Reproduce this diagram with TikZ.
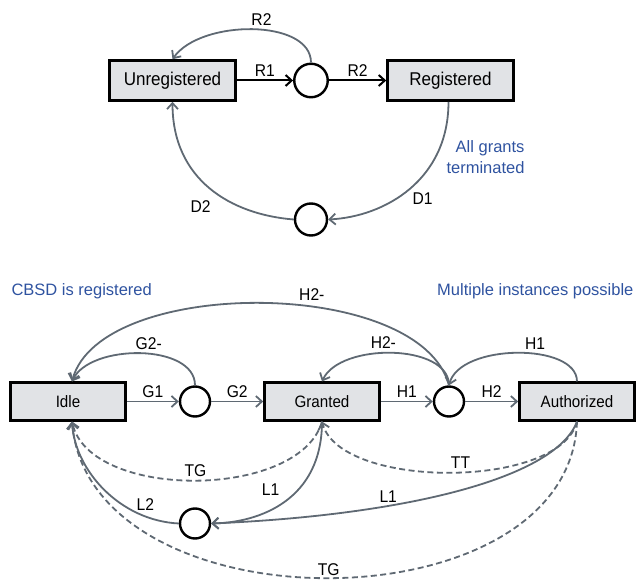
\documentclass[tikz,border=0pt]{standalone}
\usepackage{fontspec}
\setmainfont{Liberation Sans}[FakeStretch=0.92]
\newfontfamily\notefont{Liberation Sans}
\usetikzlibrary{arrows.meta,positioning}

\definecolor{linegray}{HTML}{5F6973}
\definecolor{boxgray}{HTML}{E1E3E6}
\definecolor{noteblue}{HTML}{2F53A0}

\begin{document}
\begin{tikzpicture}[x=1pt, y=-1pt, node distance=127pt, on grid, >={Straight Barb[length=6pt,width=11pt]},
                every state box/.style={rectangle, draw, line width=2.6pt, fill=boxgray},
                bigbox/.style={every state box, minimum width=126pt, minimum height=40pt, font=\fontsize{18.5}{20}\selectfont},
                smallbox/.style={every state box, minimum width=115pt, minimum height=37.5pt, font=\fontsize{16.5}{18}\selectfont},
                junction/.style={circle, draw, line width=2.4pt, fill=white, inner sep=0pt, minimum size=#1},
                junction/.default=30pt,
                lbl/.style={font=\fontsize{17}{19}\selectfont},
                note/.style={text=noteblue, font=\notefont\fontsize{16.5}{21}\selectfont},
                flow/.style={->, line width=1.8pt, draw=linegray},
                blackflow/.style={->, line width=2pt, draw=black},
                timer/.style={flow, dash pattern=on 6pt off 3.5pt}]
                \useasboundingbox (0,0) rectangle (638,580);

                % registration part
                \node[bigbox] (unreg) at (172.5,80.5) {Unregistered};
                \node[junction=33.5pt, right=138.5pt of unreg] (c1) {};
                \node[bigbox, right=139.5pt of c1] (reg) {Registered};
                \node[junction=32pt, below=139pt of c1] (c2) {};
                \node[note, align=right, anchor=east] (note1) at (528,157) {All grants\\terminated};
                \coordinate (regout) at ([xshift=-2pt]reg.south);

                \draw[blackflow] (unreg) -- node[lbl, above] {R1} (c1);
                \draw[blackflow] (c1) -- node[lbl, above] {R2} (reg);
                \draw[flow] (c1.north) .. controls +(0,-44) and +(28,-40) .. node[lbl, pos=0.45, above] {R2} (unreg.north);
                \draw[flow] (regout) .. controls +(0,78) and +(57,-3) .. node[lbl, pos=0.4, below=13pt] {D1} (c2.east);
                \draw[flow] (c2.west) .. controls +(-63,-5) and +(0,78) .. node[lbl, pos=0.3, left=25pt] {D2} (unreg.south);

                % grant part
                \node[smallbox] (idle) at (68,401.5) {Idle};
                \node[junction, right=of idle] (cg) {};
                \node[smallbox, right=of cg] (granted) {Granted};
                \node[junction, right=of granted] (ch) {};
                \node[smallbox, right=128pt of ch] (auth) {Authorized};
                \node[junction, below=122pt of cg] (cl) {};
                \node[note, anchor=west] (note2) at (8,291) {CBSD is registered};
                \node[note, anchor=east] (note3) at (637,291) {Multiple instances possible};
                \coordinate (idletop) at ([xshift=4pt]idle.north);
                \coordinate (idlebot) at ([xshift=4pt]idle.south);

                \draw[flow] (idle) -- node[lbl, above] {G1} (cg);
                \draw[flow] (cg) -- node[lbl, above] {G2} (granted);
                \draw[flow] (granted) -- node[lbl, above] {H1} (ch);
                \draw[flow] (ch) -- node[lbl, above] {H2} (auth);
                \draw[flow] (cg.north) .. controls +(0,-42) and +(18,-38) .. node[lbl, pos=0.45, above] {G2-} (idletop);
                \draw[flow] (ch.north) .. controls +(-29,-109) and +(28,-105) .. node[lbl, pos=0.4, above=2pt] {H2-} (idletop);
                \draw[flow] (ch.north) .. controls +(0,-42) and +(18,-39) .. node[lbl, pos=0.55, above] {H2-} (granted.north);
                \draw[flow] (auth.north) .. controls +(0,-39) and +(11,-42) .. node[lbl, pos=0.4, above] {H1} (ch.north);

                \draw[timer] (granted.south) .. controls +(-22,78) and +(18,79) .. node[lbl, above] {TG} (idlebot);
                \draw[timer] (auth.south) .. controls +(-17,68) and +(18,68) .. node[lbl, pos=0.47, above] {TT} (granted.south);
                \draw[timer] (auth.south) .. controls +(-7,208) and +(18,209) .. node[lbl, above, inner sep=1pt] {TG} (idlebot);
                \draw[flow] (granted.south) .. controls +(0,78) and +(49,-1) .. node[lbl, pos=0.5, above left=2pt] {L1} (cl.east);
                \draw[flow] (auth.south) .. controls +(-22,58) and +(189,-8) .. node[lbl, pos=0.66, above=-1pt] {L1} (cl.east);
                \draw[flow] (cl.west) .. controls +(-59,-3) and +(3,49) .. node[lbl, pos=0.2, above=2pt] {L2} (idlebot);
\end{tikzpicture}
\end{document}
